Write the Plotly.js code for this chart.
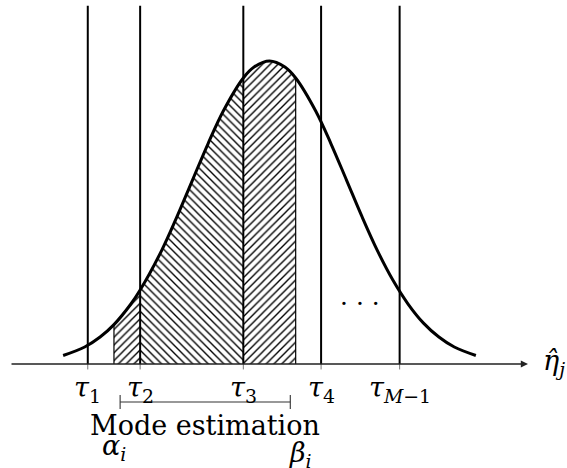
<!DOCTYPE html>
<html><head><meta charset="utf-8">
<script src="https://cdn.plot.ly/plotly-3.0.1.min.js"></script>
<style>html,body{margin:0;padding:0;background:#fff}</style>
</head><body><div id="chart" style="width:567px;height:468px"></div>
<script>
// Density curve of the estimate (peak normalised to 1)
const curveX = [-2.68, -2.4, -2.2, -2.02, -1.8, -1.68, -1.4, -1.2, -1.0, -0.8, -0.6, -0.34, -0.2, 0.0, 0.2, 0.34, 0.6, 0.8, 1.0, 1.2, 1.4, 1.6, 1.8, 2.0, 2.2, 2.4, 2.68];
const curveY = [0.028, 0.056, 0.089, 0.130, 0.198, 0.244, 0.375, 0.487, 0.607, 0.726, 0.835, 0.944, 0.980, 1.000, 0.980, 0.944, 0.835, 0.726, 0.607, 0.487, 0.375, 0.278, 0.198, 0.135, 0.089, 0.056, 0.028];
// thresholds
const thresholdX = [-2.36, -1.68, -0.34, 0.67, 1.69];
const thresholdLabels = ['<i>τ</i><sub>1</sub>', '<i>τ</i><sub>2</sub>', '<i>τ</i><sub>3</sub>', '<i>τ</i><sub>4</sub>', '<i>τ</i><sub><i>M</i>−1</sub>'];
// interval bounds
const alphaX = -2.02;
const betaX = 0.34;
const modeRange = [-1.94, 0.27];
const modeLabel = 'Mode estimation';
const alphaLabel = '<i>α</i><sub><i>i</i></sub>';
const betaLabel = '<i>β</i><sub><i>i</i></sub>';
const axisLabel = '<i>η̂</i><sub><i>j</i></sub>';
const dotsLabel = '· · ·';
const axisSpan = [-3.37, 3.357];

const hatchRegions = [
  {from: alphaX, to: thresholdX[1], shape: '/'},
  {from: thresholdX[1], to: thresholdX[2], shape: '\\'},
  {from: thresholdX[2], to: betaX, shape: '/'}
];

const FONT = 'DejaVu Serif';
const FS = 27;
const yAt = x => curveY[curveX.indexOf(x)];
const traces = [];

hatchRegions.forEach(r => {
  const xs = [], ys = [];
  curveX.forEach((x, i) => { if (x >= r.from && x <= r.to) { xs.push(x); ys.push(curveY[i]); } });
  traces.push({x: xs, y: ys, type: 'scatter', mode: 'lines', line: {width: 0, shape: 'spline', color: 'black'},
    fill: 'tozeroy', fillcolor: 'white',
    fillpattern: {shape: r.shape, size: 5.5, solidity: 0.25, fgcolor: 'black', bgcolor: 'white', fillmode: 'replace'},
    hoverinfo: 'skip'});
});

// thin edges of the hatched area
[alphaX, betaX].forEach(b => {
  traces.push({x: [b, b], y: [0, yAt(b)], type: 'scatter', mode: 'lines', line: {width: 1.2, color: 'black'}, hoverinfo: 'skip'});
});

// vertical threshold lines
const vx = [], vy = [];
thresholdX.forEach(t => { vx.push(t, t, null); vy.push(0, 1.182, null); });
traces.push({x: vx, y: vy, type: 'scatter', mode: 'lines', line: {width: 2, color: 'black'}, hoverinfo: 'skip'});
// small ticks below axis
const tx = [], ty = [];
thresholdX.forEach(t => { tx.push(t, t, null); ty.push(0, -0.018, null); });
traces.push({x: tx, y: ty, type: 'scatter', mode: 'lines', line: {width: 1, color: '#777'}, hoverinfo: 'skip'});

// density curve
traces.push({x: curveX, y: curveY, type: 'scatter', mode: 'lines', line: {width: 3, color: 'black', shape: 'spline', smoothing: 1}, hoverinfo: 'skip'});

// bracket
const bY = -0.1254, bT = 0.023;
traces.push({x: [modeRange[0], modeRange[0], null, modeRange[0], modeRange[1], null, modeRange[1], modeRange[1]],
  y: [bY + bT, bY - bT, null, bY, bY, null, bY + bT, bY - bT],
  type: 'scatter', mode: 'lines', line: {width: 1.1, color: '#333'}, hoverinfo: 'skip'});

const ann = [];
// axis arrow
ann.push({x: axisSpan[1], y: 0, ax: axisSpan[0], ay: 0, xref: 'x', yref: 'y', axref: 'x', ayref: 'y',
  text: '', showarrow: true, arrowhead: 2, arrowsize: 1.1, arrowwidth: 1.3, arrowcolor: '#222', standoff: 0});
thresholdX.forEach((t, i) => {
  ann.push({x: t, y: -0.083, xref: 'x', yref: 'y', text: thresholdLabels[i], showarrow: false,
    xanchor: 'center', yanchor: 'middle', font: {family: FONT, size: FS, color: 'black'}});
});
ann.push({x: (modeRange[0] + modeRange[1]) / 2, y: -0.203, xref: 'x', yref: 'y', text: modeLabel, showarrow: false,
  xanchor: 'center', yanchor: 'middle', font: {family: FONT, size: FS, color: 'black'}});
ann.push({x: alphaX, y: -0.276, xref: 'x', yref: 'y', text: alphaLabel, showarrow: false,
  xanchor: 'center', yanchor: 'middle', font: {family: FONT, size: FS, color: 'black'}});
ann.push({x: betaX, xshift: 5, y: -0.298, xref: 'x', yref: 'y', text: betaLabel, showarrow: false,
  xanchor: 'center', yanchor: 'middle', font: {family: FONT, size: FS, color: 'black'}});
ann.push({x: 3.69, y: 0.006, xref: 'x', yref: 'y', text: axisLabel, showarrow: false,
  xanchor: 'center', yanchor: 'middle', font: {family: FONT, size: FS, color: 'black'}});
ann.push({x: 1.175, y: 0.2, xref: 'x', yref: 'y', text: dotsLabel, showarrow: false,
  xanchor: 'center', yanchor: 'middle', font: {family: FONT, size: FS - 2, color: 'black'}});

const layout = {
  width: 567, height: 468,
  margin: {l: 0, r: 0, t: 0, b: 0, pad: 0},
  paper_bgcolor: 'white', plot_bgcolor: 'white',
  showlegend: false,
  xaxis: {range: [-3.5, 3.8636], visible: false, fixedrange: true},
  yaxis: {range: [-0.3432, 1.2013], visible: false, fixedrange: true},
  annotations: ann
};
Plotly.newPlot('chart', traces, layout, {displayModeBar: false, staticPlot: true});
</script></body></html>
